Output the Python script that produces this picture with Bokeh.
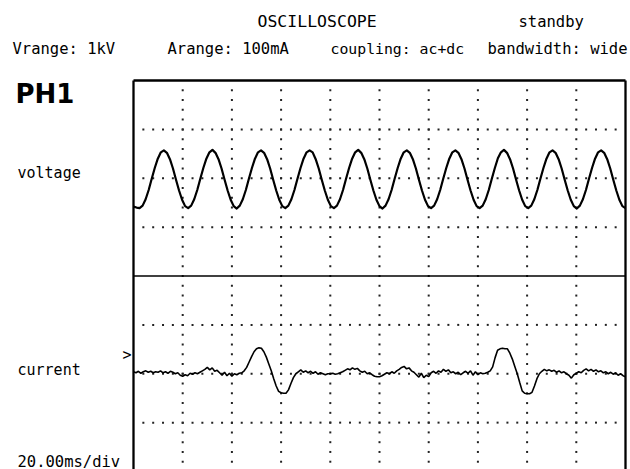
import numpy as np
from bokeh.plotting import figure
from bokeh.models import Range1d, Label
from bokeh.embed import file_html
from bokeh.resources import INLINE

# ---------------- data ----------------
# time base: 20 ms/div, 10 divisions; voltage sampled 16 times per mains cycle
V_DT = 19.75 / 16                                  # ms between voltage samples
voltage = [                                        # divisions, about centre of upper trace
    -0.58, -0.60, -0.61, -0.56, -0.43, -0.24, -0.01, 0.21, 0.40, 0.53, 0.57, 0.52, 0.39, 0.20, -0.03, -0.25,
    -0.44, -0.57, -0.61, -0.56, -0.43, -0.24, -0.01, 0.21, 0.40, 0.53, 0.58, 0.52, 0.39, 0.20, -0.03, -0.25,
    -0.44, -0.57, -0.62, -0.56, -0.43, -0.24, -0.01, 0.21, 0.40, 0.53, 0.57, 0.52, 0.39, 0.20, -0.03, -0.25,
    -0.44, -0.57, -0.61, -0.56, -0.43, -0.24, -0.01, 0.21, 0.40, 0.53, 0.57, 0.53, 0.39, 0.20, -0.03, -0.25,
    -0.44, -0.57, -0.61, -0.56, -0.43, -0.24, -0.01, 0.21, 0.40, 0.53, 0.58, 0.52, 0.39, 0.20, -0.03, -0.25,
    -0.44, -0.57, -0.62, -0.56, -0.43, -0.24, -0.01, 0.21, 0.40, 0.53, 0.57, 0.52, 0.39, 0.20, -0.03, -0.25,
    -0.44, -0.57, -0.61, -0.56, -0.43, -0.24, -0.01, 0.21, 0.40, 0.53, 0.57, 0.52, 0.39, 0.20, -0.03, -0.25,
    -0.44, -0.57, -0.61, -0.56, -0.43, -0.24, -0.01, 0.21, 0.41, 0.53, 0.58, 0.52, 0.39, 0.20, -0.03, -0.25,
    -0.44, -0.57, -0.61, -0.56, -0.43, -0.24, -0.01, 0.21, 0.40, 0.53, 0.57, 0.52, 0.39, 0.20, -0.03, -0.25,
    -0.44, -0.57, -0.62, -0.56, -0.43, -0.24, -0.01, 0.21, 0.40, 0.53, 0.57, 0.52, 0.39, 0.20, -0.03, -0.25,
    -0.44, -0.57, -0.61,
]
t_voltage = [i * V_DT for i in range(len(voltage))]   # ms

t_current = list(range(201))                       # ms
current = [                                        # divisions, about centre of lower trace
    0.04, 0.02, 0.05, 0.01, 0.04, 0.06, 0.03, 0.05, 0.02, 0.04,
    0.03, 0.06, 0.02, 0.04, 0.01, 0.05, 0.03, 0.00, 0.02, -0.03,
    -0.05, -0.02, -0.04, 0.01, -0.01, 0.02, 0.00, 0.03, 0.06, 0.09,
    0.13, 0.08, 0.12, 0.05, 0.07, 0.02, -0.03, 0.03, -0.04, 0.01,
    -0.05, 0.00, -0.02, 0.01, 0.02, 0.06, 0.13, 0.24, 0.35, 0.45,
    0.51, 0.53, 0.52, 0.45, 0.34, 0.20, 0.06, -0.10, -0.25, -0.36,
    -0.39, -0.40, -0.40, -0.33, -0.20, -0.08, 0.00, 0.04, 0.08, 0.03,
    0.06, 0.02, 0.05, 0.01, 0.04, -0.01, 0.02, 0.00, -0.02, 0.00,
    0.00, 0.01, -0.01, 0.00, 0.02, 0.04, 0.07, 0.10, 0.08, 0.12,
    0.09, 0.11, 0.06, 0.03, 0.05, 0.00, 0.02, -0.02, -0.05, -0.06,
    -0.06, -0.04, -0.01, 0.02, 0.00, 0.04, 0.01, 0.06, 0.09, 0.13,
    0.15, 0.10, 0.12, 0.06, 0.03, -0.02, -0.07, 0.01, -0.08, -0.03,
    -0.06, 0.02, 0.05, 0.01, 0.06, 0.03, 0.09, 0.05, 0.08, 0.02,
    0.04, 0.00, 0.03, -0.02, 0.02, 0.05, 0.01, 0.06, -0.03, 0.04,
    -0.02, 0.02, 0.00, 0.01, 0.03, 0.06, 0.14, 0.33, 0.48, 0.51,
    0.52, 0.51, 0.51, 0.42, 0.30, 0.15, 0.00, -0.18, -0.35, -0.40,
    -0.41, -0.41, -0.38, -0.25, -0.10, 0.00, 0.05, 0.09, 0.06, 0.08,
    0.05, 0.07, 0.03, 0.06, 0.02, 0.04, 0.00, -0.03, -0.09, -0.02,
    0.01, 0.04, 0.02, 0.07, 0.10, 0.06, 0.09, 0.05, 0.08, 0.04,
    0.06, 0.02, 0.04, 0.00, 0.03, -0.01, 0.02, -0.03, 0.00, -0.04,
    -0.06,
]

header_top = ["OSCILLOSCOPE", "standby"]
header_settings = ["Vrange: 1kV", "Arange: 100mA", "coupling: ac+dc", "bandwidth: wide"]
channel_name = "PH1"
trace_names = ["voltage", "current"]
timebase = "20.00ms/div"

# ---------------- layout ----------------
W, H = 630, 469
FL, FR, FT = 133, 625, 80          # screen (graticule) edges in px
T_SPAN = 200.0                     # ms across the screen
SX = (FR - FL) / T_SPAN            # px per ms
DIV_PX_Y = (275.5 - FT) / 4.0      # px per vertical division
Y_TOP = 4.0
Y_BOT = Y_TOP - (H - FT) / DIV_PX_Y
V_CENTRE, I_CENTRE = 2.0, -2.0

# the plot frame covers the whole canvas; the graticule is drawn inside it
p = figure(width=W, height=H, output_backend="svg", toolbar_location=None,
           x_axis_type=None, y_axis_type=None, title=None,
           x_range=Range1d(-FL / SX, (W - FL) / SX),
           y_range=Range1d(Y_BOT, Y_TOP + FT / DIV_PX_Y),
           min_border=0)
p.outline_line_color = None
p.background_fill_color = "white"
p.border_fill_color = "white"
p.xgrid.visible = False
p.ygrid.visible = False

# dotted graticule
sub = 0.2
gx = np.arange(20, T_SPAN, 20)
gy_dots = np.arange(Y_TOP - sub, Y_BOT - 0.05, -sub)
vx, vy = np.meshgrid(gx, gy_dots)
hy = np.array([3, 2, 1, -1, -2, -3], dtype=float)
hx_dots = np.arange(4, T_SPAN, 4)
hx, hyy = np.meshgrid(hx_dots, hy)
p.scatter(np.concatenate([vx.ravel(), hx.ravel()]),
          np.concatenate([vy.ravel(), hyy.ravel()]),
          marker="square", size=2, color="#222222", line_color=None)

# graticule border and the divider between the two traces
p.segment(x0=[0, T_SPAN, 0], y0=[Y_BOT - 1, Y_BOT - 1, Y_TOP],
          x1=[0, T_SPAN, T_SPAN], y1=[Y_TOP, Y_TOP, Y_TOP],
          line_color="black", line_width=2.3)
p.segment(x0=[0], y0=[0], x1=[T_SPAN], y1=[0], line_color="black", line_width=1.5)

# traces
p.line(t_voltage, [V_CENTRE + v for v in voltage], line_color="black", line_width=2.2,
       line_join="round")
p.line(t_current, [I_CENTRE + c for c in current], line_color="black", line_width=1.6)

FONT = "DejaVu Sans Mono"


def lab(text, px, py, size="15.5px", font=FONT, style="normal"):
    p.add_layout(Label(x=(px - FL) / SX, y=Y_TOP - (py - FT) / DIV_PX_Y, text=text,
                       text_font=font, text_font_size=size, text_font_style=style,
                       text_color="black", text_align="left",
                       text_baseline="alphabetic"))


lab(header_top[0], 257, 21, size="16.5px")
lab(header_top[1], 518, 21)
lab(header_settings[0], 12, 48)
lab(header_settings[1], 167, 48)
lab(header_settings[2], 330, 48, size="14.8px")
lab(header_settings[3], 487, 48)
lab(channel_name, 15, 93, size="26px", font="DejaVu Sans", style="bold")
lab(trace_names[0], 17, 172, size="15px")
lab(trace_names[1], 17, 369, size="15px")
lab(">", 122, 354, size="15px")
lab(timebase, 17, 461)

open("out.html", "w").write(file_html(p, INLINE))
